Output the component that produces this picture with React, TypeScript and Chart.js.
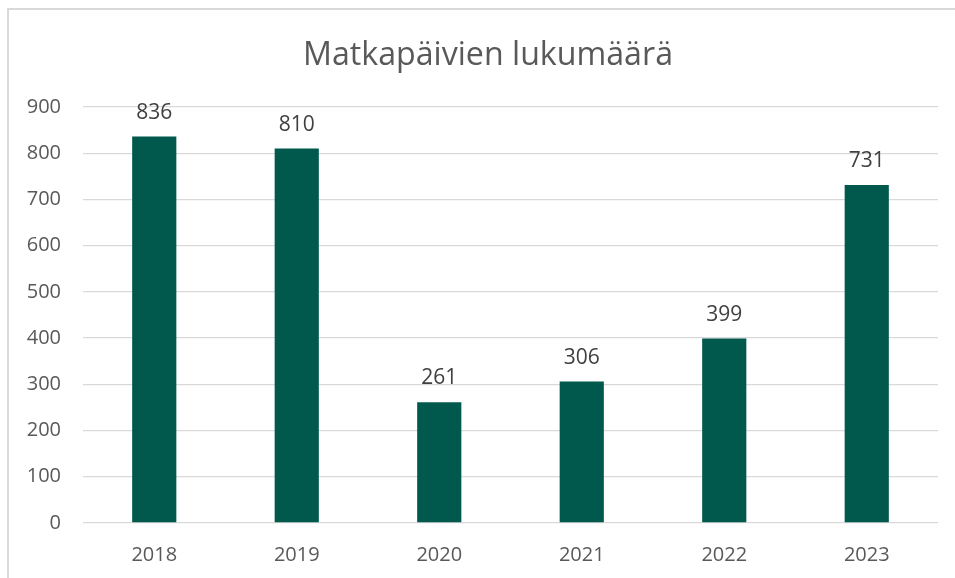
import React, { useEffect, useRef } from "react";
import { Chart, registerables } from "chart.js";

Chart.register(...registerables);

const title = "Matkapäivien lukumäärä";
const years = ["2018", "2019", "2020", "2021", "2022", "2023"];
const days = [836, 810, 261, 306, 399, 731];
const yMin = 0;
const yMax = 900;
const yStep = 100;

const FONT = "'Open Sans', 'Liberation Sans', sans-serif";

const decorPlugin = {
  id: "decor",
  beforeDraw(chart: any) {
    const ctx = chart.ctx;
    ctx.save();
    ctx.fillStyle = "#ffffff";
    ctx.fillRect(0, 0, chart.width, chart.height);
    ctx.fillStyle = "#d9d9d9";
    ctx.fillRect(7, 8, chart.width - 7, 2);
    ctx.fillRect(7, 8, 2, chart.height - 8);
    ctx.fillStyle = "#595959";
    ctx.font = `33px ${FONT}`;
    ctx.textAlign = "center";
    ctx.textBaseline = "alphabetic";
    ctx.fillText(title, 488, 65, 370);
    ctx.restore();
  },
  afterDatasetsDraw(chart: any) {
    const ctx = chart.ctx;
    const meta = chart.getDatasetMeta(0);
    ctx.save();
    ctx.fillStyle = "#404040";
    ctx.font = `21px ${FONT}`;
    ctx.textAlign = "center";
    ctx.textBaseline = "alphabetic";
    meta.data.forEach((bar: any, i: number) => {
      ctx.fillText(String(days[i]), bar.x, bar.y - 18);
    });
    ctx.restore();
  },
};

export default function App() {
  const ref = useRef<HTMLCanvasElement>(null);
  useEffect(() => {
    if (!ref.current) return;
    const chart = new Chart(ref.current, {
      type: "bar",
      data: {
        labels: years,
        datasets: [
          {
            data: days,
            backgroundColor: "#00594c",
            categoryPercentage: 1,
            barPercentage: 0.31,
          },
        ],
      },
      options: {
        responsive: false,
        animation: false,
        devicePixelRatio: 1,
        layout: { padding: { top: 107, right: 17, left: 0, bottom: 0 } },
        plugins: {
          legend: { display: false },
          title: { display: false },
          tooltip: { enabled: false },
        },
        scales: {
          x: {
            grid: { display: false, drawTicks: false },
            border: { display: false },
            ticks: {
              color: "#595959",
              font: { family: FONT, size: 20 },
              padding: 20,
            },
            afterFit(scale: any) {
              scale.height = 55;
            },
          },
          y: {
            min: yMin,
            max: yMax,
            grid: { color: "#d9d9d9", lineWidth: 1.3, drawTicks: false },
            border: { display: false },
            ticks: {
              stepSize: yStep,
              color: "#595959",
              font: { family: FONT, size: 20 },
              padding: 22,
            },
            afterFit(scale: any) {
              scale.width = 83;
            },
          },
        },
      },
      plugins: [decorPlugin],
    });
    return () => chart.destroy();
  }, []);
  return (
    <div style={{ position: "fixed", left: 0, top: 0, width: 955, height: 578, background: "#fff" }}>
      <canvas ref={ref} width={955} height={578} style={{ display: "block", width: 955, height: 578 }} />
    </div>
  );
}
